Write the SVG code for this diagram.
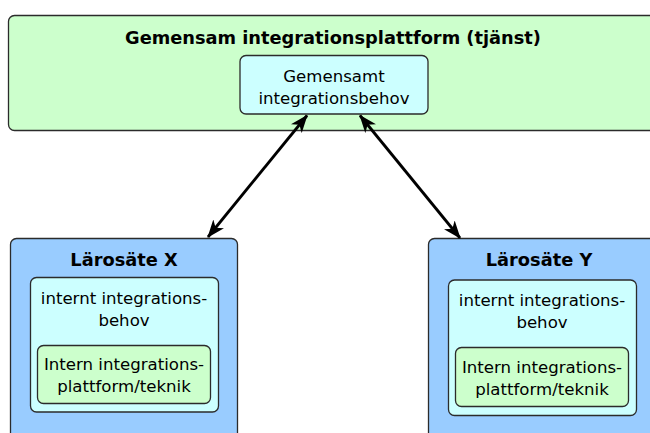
<svg xmlns="http://www.w3.org/2000/svg" width="650" height="433" viewBox="0 0 650 433">
  <style>
    .box { stroke: #2b2b2b; stroke-width: 1.3; }
    .green { fill: #ccffcc; }
    .cyan { fill: #ccffff; }
    .blue { fill: #99ccff; }
    text { font-family: "DejaVu Sans", "Liberation Sans", sans-serif; fill: #000; text-anchor: middle; }
    .title { font-size: 17.8px; font-weight: bold; }
    .body { font-size: 16.6px; }
    .conn { stroke: #000; stroke-width: 2.8; fill: none; marker-start: url(#head); marker-end: url(#head); }
  </style>
  <defs>
    <marker id="head" viewBox="0 0 18 14" refX="17" refY="7" markerWidth="18" markerHeight="14" markerUnits="userSpaceOnUse" orient="auto-start-reverse">
      <path d="M0,0 L18,7 L0,14 L5,7 Z" fill="#000"/>
    </marker>
  </defs>

  <!-- shared platform -->
  <g id="platform">
    <rect class="box green" x="8.5" y="15.5" width="660" height="115" rx="6"/>
    <text class="title" x="333" y="44">Gemensam integrationsplattform (tjänst)</text>
  </g>
  <g id="shared-need">
    <rect class="box cyan" x="240" y="55.5" width="188" height="58.5" rx="6"/>
    <text class="body" x="334" y="82">Gemensamt</text>
    <text class="body" x="334" y="104">integrationsbehov</text>
  </g>

  <!-- institution X -->
  <g id="larosate-x">
    <rect class="box blue" x="10.5" y="238.5" width="227" height="220" rx="6"/>
    <text class="title" x="124" y="266">Lärosäte X</text>
  </g>
  <g id="need-x">
    <rect class="box cyan" x="30.5" y="277.5" width="188" height="134.5" rx="6"/>
    <text class="body" x="124" y="304">internt integrations-</text>
    <text class="body" x="124" y="326">behov</text>
  </g>
  <g id="tech-x">
    <rect class="box green" x="37.5" y="345.5" width="173" height="58" rx="6"/>
    <text class="body" x="124" y="370">Intern integrations-</text>
    <text class="body" x="124" y="392">plattform/teknik</text>
  </g>

  <!-- institution Y -->
  <g id="larosate-y">
    <rect class="box blue" x="428.5" y="238.5" width="240" height="220" rx="6"/>
    <text class="title" x="539" y="266">Lärosäte Y</text>
  </g>
  <g id="need-y">
    <rect class="box cyan" x="448.5" y="280" width="188" height="135.5" rx="6"/>
    <text class="body" x="542" y="306">internt integrations-</text>
    <text class="body" x="542" y="328">behov</text>
  </g>
  <g id="tech-y">
    <rect class="box green" x="455.5" y="347.5" width="173" height="59" rx="6"/>
    <text class="body" x="542" y="373">Intern integrations-</text>
    <text class="body" x="542" y="395">plattform/teknik</text>
  </g>

  <!-- connectors -->
  <g id="connectors">
    <line class="conn" x1="307" y1="115.5" x2="208" y2="237"/>
    <line class="conn" x1="360" y1="115.5" x2="460" y2="238"/>
  </g>
</svg>
